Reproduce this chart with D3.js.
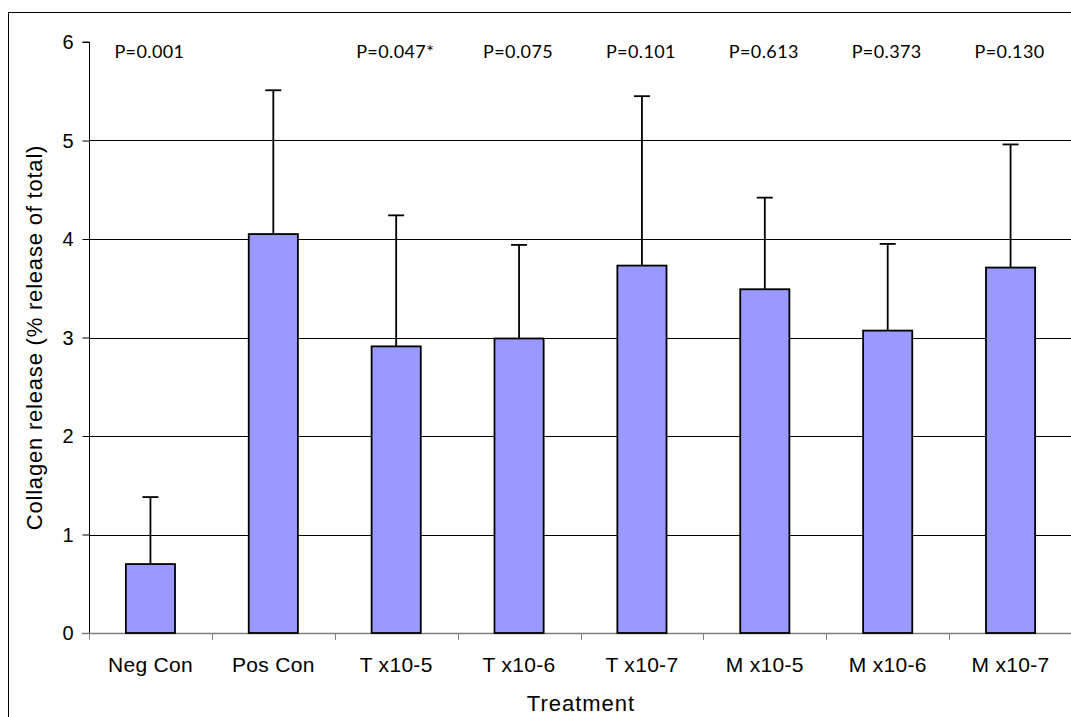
<!DOCTYPE html>
<html>
<head>
<meta charset="utf-8">
<script src="https://cdn.jsdelivr.net/npm/d3@7"></script>
<style>
  html, body { margin: 0; padding: 0; background: #fff; }
  svg { display: block; }
</style>
</head>
<body>
<svg id="chart" width="1071" height="717"></svg>
<script>
// Collagen release by treatment, mean with upward SD
const categories = ["Neg Con", "Pos Con", "T x10-5", "T x10-6", "T x10-7", "M x10-5", "M x10-6", "M x10-7"];
const means      = [0.70, 4.05, 2.91, 2.99, 3.73, 3.49, 3.07, 3.71];
const errors     = [0.68, 1.46, 1.33, 0.95, 1.72, 0.93, 0.88, 1.25];
const pLabels    = ["P=0.001", "", "P=0.047*", "P=0.075", "P=0.101", "P=0.613", "P=0.373", "P=0.130"];
const yTicks     = [0, 1, 2, 3, 4, 5, 6];
const gridValues = [1, 2, 3, 4, 5];

const svg = d3.select("#chart");
const arial = "Liberation Sans, Arial, sans-serif";

const plotLeft = 89, plotRight = 1072, plotTop = 42, plotBottom = 633;

const x = d3.scaleBand().domain(categories).range([plotLeft, plotRight]).padding(0);
const y = d3.scaleLinear().domain([0, 6]).range([plotBottom, plotTop]);
const barW = x.bandwidth() * 0.4;

// outer frame
svg.append("rect")
  .attr("x", 8.5).attr("y", 12.5)
  .attr("width", 1100).attr("height", 750)
  .attr("fill", "none").attr("stroke", "#000").attr("stroke-width", 1);

// horizontal gridlines
svg.append("g").selectAll("line").data(gridValues).join("line")
  .attr("x1", plotLeft).attr("x2", plotRight)
  .attr("y1", d => Math.round(y(d)) + 0.5).attr("y2", d => Math.round(y(d)) + 0.5)
  .attr("stroke", "#000").attr("stroke-width", 1);

// y axis
const yAxis = d3.axisLeft(y).tickValues(yTicks).tickSize(7).tickPadding(9).tickFormat(d3.format("d"));
const gy = svg.append("g").attr("transform", `translate(${plotLeft + 0.5},0)`).call(yAxis);
gy.select(".domain").attr("stroke", "#000").attr("d", `M-7,${y(6)}H0V${y(0)}`);
gy.selectAll(".tick line").attr("stroke", "#000");
gy.selectAll(".tick text").attr("font-family", arial).attr("font-size", 20).attr("fill", "#000").attr("dy", "0.34em");

// x axis baseline and category boundary ticks
const boundaries = categories.map(c => x(c)).concat([plotRight]);
svg.append("line")
  .attr("x1", plotLeft - 7).attr("x2", plotRight)
  .attr("y1", plotBottom + 0.5).attr("y2", plotBottom + 0.5)
  .attr("stroke", "#808080").attr("stroke-width", 1.5);
svg.append("g").selectAll("line").data(boundaries).join("line")
  .attr("x1", d => Math.round(d) + 0.5).attr("x2", d => Math.round(d) + 0.5)
  .attr("y1", plotBottom).attr("y2", plotBottom + 7)
  .attr("stroke", "#808080").attr("stroke-width", 1);

// category labels
svg.append("g").selectAll("text").data(categories).join("text")
  .attr("x", d => x(d) + x.bandwidth() / 2)
  .attr("y", 672)
  .attr("text-anchor", "middle")
  .attr("font-family", arial).attr("font-size", 21).attr("fill", "#000")
  .attr("letter-spacing", 0.3)
  .text(d => d);

// error bars (upper only)
const eb = svg.append("g").attr("stroke", "#000").attr("stroke-width", 1.8);
categories.forEach((c, i) => {
  const cx = x(c) + x.bandwidth() / 2;
  eb.append("line").attr("x1", cx).attr("x2", cx).attr("y1", y(means[i])).attr("y2", y(means[i] + errors[i]));
  eb.append("line").attr("x1", cx - 8).attr("x2", cx + 8).attr("y1", y(means[i] + errors[i])).attr("y2", y(means[i] + errors[i]));
});

// bars
svg.append("g").selectAll("rect").data(categories).join("rect")
  .attr("x", d => x(d) + x.bandwidth() / 2 - barW / 2)
  .attr("y", (d, i) => y(means[i]))
  .attr("width", barW)
  .attr("height", (d, i) => y(0) - y(means[i]))
  .attr("fill", "#9999FF")
  .attr("stroke", "#000").attr("stroke-width", 1.8);

// significance labels
svg.append("g").selectAll("text").data(categories).join("text")
  .attr("x", d => x(d) + x.bandwidth() / 2 - 1)
  .attr("y", 58)
  .attr("text-anchor", "middle")
  .attr("font-family", "Lato, 'Open Sans', sans-serif").attr("font-size", 18).attr("fill", "#000")
  .attr("letter-spacing", 0.4)
  .text((d, i) => pLabels[i]);

// axis titles
svg.append("text")
  .attr("x", 581).attr("y", 711)
  .attr("text-anchor", "middle")
  .attr("font-family", arial).attr("font-size", 22).attr("fill", "#000")
  .attr("letter-spacing", 1)
  .text("Treatment");

svg.append("text")
  .attr("transform", `translate(42,${(plotTop + plotBottom) / 2}) rotate(-90)`)
  .attr("text-anchor", "middle")
  .attr("font-family", arial).attr("font-size", 22).attr("fill", "#000")
  .attr("letter-spacing", 0.8)
  .text("Collagen release (% release of total)");
</script>
</body>
</html>
